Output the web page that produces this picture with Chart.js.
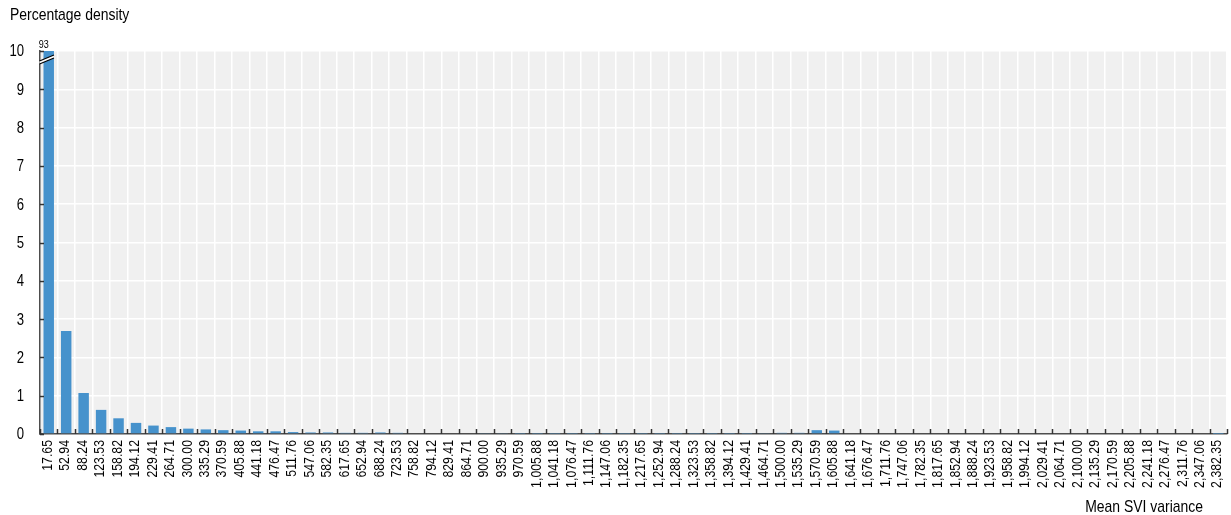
<!DOCTYPE html>
<html>
<head>
<meta charset="utf-8">
<script src="https://cdn.jsdelivr.net/npm/chart.js@4.4.1/dist/chart.umd.min.js"></script>
<style>
  html, body { margin: 0; padding: 0; background: #ffffff; }
  #wrap { width: 1231px; height: 515px; position: relative; }
</style>
</head>
<body>
<div id="wrap"><canvas id="c"></canvas></div>
<script>
// Histogram bins (bin centres of mean SVI variance)
const binLabels = [
  '17.65', '52.94', '88.24', '123.53', '158.82', '194.12', '229.41', '264.71',
  '300.00', '335.29', '370.59', '405.88', '441.18', '476.47', '511.76', '547.06',
  '582.35', '617.65', '652.94', '688.24', '723.53', '758.82', '794.12', '829.41',
  '864.71', '900.00', '935.29', '970.59', '1,005.88', '1,041.18', '1,076.47', '1,111.76',
  '1,147.06', '1,182.35', '1,217.65', '1,252.94', '1,288.24', '1,323.53', '1,358.82', '1,394.12',
  '1,429.41', '1,464.71', '1,500.00', '1,535.29', '1,570.59', '1,605.88', '1,641.18', '1,676.47',
  '1,711.76', '1,747.06', '1,782.35', '1,817.65', '1,852.94', '1,888.24', '1,923.53', '1,958.82',
  '1,994.12', '2,029.41', '2,064.71', '2,100.00', '2,135.29', '2,170.59', '2,205.88', '2,241.18',
  '2,276.47', '2,311.76', '2,347.06', '2,382.35'
];

// Percentage density per bin
const density = [
  93, 2.69, 1.07, 0.63, 0.41, 0.29, 0.22, 0.18,
  0.14, 0.12, 0.10, 0.09, 0.07, 0.07, 0.05, 0.04,
  0.04, 0.03, 0.03, 0.04, 0.03, 0.02, 0.02, 0.02,
  0.02, 0.015, 0.015, 0.01, 0.01, 0.01, 0.01, 0.01,
  0.01, 0.01, 0.01, 0.01, 0.01, 0.01, 0.01, 0.01,
  0.01, 0.015, 0.03, 0.03, 0.10, 0.09, 0, 0,
  0, 0, 0, 0, 0, 0, 0, 0,
  0, 0, 0, 0, 0, 0, 0, 0,
  0, 0, 0, 0.005
];

// Value axis
const yTicks = [0, 1, 2, 3, 4, 5, 6, 7, 8, 9, 10];
const yMax = 10;

const yTitle = 'Percentage density';
const xTitle = 'Mean SVI variance';

const FONT = "'Liberation Sans', Arial, sans-serif";
const NARROW = 0.82;          // horizontal squeeze giving a narrow sans face
const AXIS_COLOR = '#4d4d4d';

// Draws narrow text, optionally rotated to read bottom-to-top
function narrowText(ctx, text, x, y, size, align, baseline, rotated) {
  ctx.save();
  ctx.translate(x, y);
  if (rotated) ctx.rotate(-Math.PI / 2);
  ctx.scale(NARROW, 1);
  ctx.font = size + 'px ' + FONT;
  ctx.fillStyle = '#000000';
  ctx.textAlign = align;
  ctx.textBaseline = baseline;
  ctx.fillText(text, 0, 0);
  ctx.restore();
}

// Grey plotting panel behind the grid
const panelBackground = {
  id: 'panelBackground',
  beforeDraw(chart) {
    const { ctx, chartArea: a } = chart;
    ctx.save();
    ctx.fillStyle = '#f0f0f0';
    ctx.fillRect(a.left, a.top, a.right - a.left, a.bottom - a.top);
    ctx.restore();
  }
};

// Short tick marks pointing into the panel
const innerTicks = {
  id: 'innerTicks',
  afterDraw(chart) {
    const { ctx, chartArea: a, scales } = chart;
    const ys = scales.y;
    const n = binLabels.length;
    const step = (a.right - a.left) / n;
    ctx.save();
    ctx.strokeStyle = '#333333';
    ctx.lineWidth = 1.5;
    ctx.beginPath();
    for (let i = 0; i <= n; i++) {
      const x = Math.round(a.left + i * step) + 0.5;
      ctx.moveTo(x, a.bottom);
      ctx.lineTo(x, a.bottom - 5);
    }
    yTicks.forEach(v => {
      const y = Math.round(ys.getPixelForValue(v)) + 0.5;
      ctx.moveTo(a.left, y);
      ctx.lineTo(a.left + 4, y);
    });
    ctx.stroke();
    ctx.restore();
  }
};

// Tick labels and axis titles in a narrow face
const axisText = {
  id: 'axisText',
  afterDraw(chart) {
    const { ctx, chartArea: a, scales } = chart;
    const xs = scales.x, ys = scales.y;
    binLabels.forEach((lab, i) => {
      narrowText(ctx, lab, xs.getPixelForValue(i) - 1, a.bottom + 6, 15, 'right', 'middle', true);
    });
    yTicks.forEach(v => {
      narrowText(ctx, String(v), 24, ys.getPixelForValue(v) + 1, 16, 'right', 'middle', false);
    });
    narrowText(ctx, yTitle, 10, 20, 17, 'left', 'alphabetic', false);
    narrowText(ctx, xTitle, a.right - 24, 512, 17, 'right', 'alphabetic', false);
  }
};

// Bars running past the axis maximum get a break mark and their value on top
const axisBreak = {
  id: 'axisBreak',
  afterDatasetsDraw(chart) {
    const { ctx, chartArea: a } = chart;
    const meta = chart.getDatasetMeta(0);
    meta.data.forEach((bar, i) => {
      const v = density[i];
      if (v <= yMax) return;
      const half = bar.width / 2;
      const x0 = bar.x - half - 4, x1 = bar.x + half;
      const y0 = a.top + 10;
      ctx.save();
      ctx.fillStyle = '#ffffff';
      ctx.beginPath();
      ctx.moveTo(x0, y0);
      ctx.lineTo(x1, y0 - 6);
      ctx.lineTo(x1, y0 - 3);
      ctx.lineTo(x0, y0 + 3);
      ctx.closePath();
      ctx.fill();
      ctx.strokeStyle = '#000000';
      ctx.lineWidth = 1.2;
      ctx.beginPath();
      ctx.moveTo(x0, y0);
      ctx.lineTo(x1, y0 - 6);
      ctx.moveTo(x0, y0 + 3);
      ctx.lineTo(x1, y0 - 3);
      ctx.stroke();
      ctx.restore();
      narrowText(ctx, String(v), bar.x - 5, a.top - 3, 11, 'center', 'alphabetic', false);
    });
  }
};

new Chart(document.getElementById('c'), {
  type: 'bar',
  data: {
    labels: binLabels,
    datasets: [{
      data: density,
      backgroundColor: '#4692cc',
      borderWidth: 0,
      categoryPercentage: 1.0,
      barPercentage: 0.6
    }]
  },
  options: {
    responsive: true,
    maintainAspectRatio: false,
    animation: false,
    devicePixelRatio: 1,
    layout: { padding: { top: 51, right: 4, left: 0, bottom: 0 } },
    plugins: {
      legend: { display: false },
      tooltip: { enabled: false },
      title: { display: false }
    },
    scales: {
      x: {
        afterFit(s) { s.height = 81; },
        grid: { color: '#ffffff', lineWidth: 1.5, drawTicks: false, offset: true },
        border: { display: true, color: AXIS_COLOR, width: 1.5 },
        ticks: { display: false, autoSkip: false }
      },
      y: {
        min: 0,
        max: yMax,
        afterFit(s) { s.width = 40; },
        afterBuildTicks(s) { s.ticks = yTicks.map(v => ({ value: v })); },
        grid: { color: '#ffffff', lineWidth: 1.5, drawTicks: false },
        border: { display: true, color: AXIS_COLOR, width: 1.5 },
        ticks: { display: false }
      }
    }
  },
  plugins: [panelBackground, innerTicks, axisText, axisBreak]
});
</script>
</body>
</html>
